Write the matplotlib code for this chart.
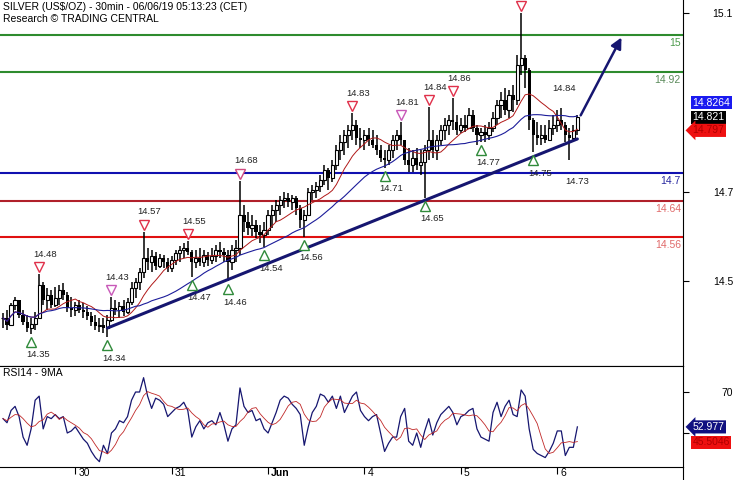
import numpy as np
import pandas as pd
import matplotlib
matplotlib.use('Agg')
import matplotlib.pyplot as plt
from matplotlib import transforms
from matplotlib.lines import Line2D

plt.rcParams['font.family'] = ['Liberation Sans', 'DejaVu Sans']

# hourly bars (trading time, weekend skipped)
times = pd.date_range('2019-05-29 06:00', '2019-05-31 23:00', freq='h').append(
	pd.date_range('2019-06-03 00:00', '2019-06-06 05:00', freq='h'))

highs = [14.396, 14.402, 14.417, 14.430, 14.424, 14.402, 14.391, 14.385, 14.398, 14.480,
	14.463, 14.450, 14.446, 14.452, 14.457, 14.461, 14.441, 14.430, 14.420, 14.424,
	14.417, 14.411, 14.398, 14.391, 14.385, 14.385, 14.391, 14.430, 14.424, 14.420,
	14.424, 14.428, 14.463, 14.472, 14.493, 14.572, 14.537, 14.532, 14.528, 14.524,
	14.522, 14.515, 14.519, 14.532, 14.541, 14.548, 14.552, 14.532, 14.532, 14.537,
	14.532, 14.528, 14.537, 14.543, 14.550, 14.537, 14.532, 14.543, 14.554, 14.683,
	14.630, 14.615, 14.609, 14.598, 14.587, 14.593, 14.620, 14.630, 14.641, 14.650,
	14.659, 14.656, 14.652, 14.650, 14.630, 14.620, 14.667, 14.674, 14.680, 14.696,
	14.717, 14.711, 14.728, 14.761, 14.783, 14.793, 14.804, 14.830, 14.815, 14.798,
	14.793, 14.798, 14.793, 14.783, 14.761, 14.750, 14.761, 14.783, 14.793, 14.810,
	14.772, 14.754, 14.750, 14.754, 14.750, 14.761, 14.843, 14.793, 14.783, 14.804,
	14.820, 14.826, 14.863, 14.826, 14.820, 14.826, 14.841, 14.837, 14.804, 14.798,
	14.804, 14.811, 14.833, 14.859, 14.876, 14.885, 14.880, 14.891, 14.957, 15.048,
	14.957, 14.928, 14.820, 14.811, 14.804, 14.804, 14.815, 14.826, 14.837, 14.841,
	14.811, 14.798, 14.804, 14.826]
lows = [14.363, 14.359, 14.376, 14.402, 14.385, 14.370, 14.354, 14.350, 14.359, 14.385,
	14.413, 14.402, 14.407, 14.409, 14.413, 14.424, 14.398, 14.387, 14.389, 14.396,
	14.385, 14.380, 14.367, 14.359, 14.354, 14.352, 14.343, 14.376, 14.391, 14.385,
	14.389, 14.393, 14.413, 14.428, 14.446, 14.472, 14.489, 14.485, 14.489, 14.493,
	14.493, 14.485, 14.485, 14.500, 14.507, 14.515, 14.522, 14.474, 14.493, 14.498,
	14.496, 14.498, 14.502, 14.507, 14.515, 14.507, 14.465, 14.489, 14.507, 14.522,
	14.572, 14.565, 14.563, 14.559, 14.548, 14.539, 14.565, 14.580, 14.593, 14.609,
	14.624, 14.626, 14.620, 14.609, 14.580, 14.561, 14.609, 14.641, 14.646, 14.659,
	14.674, 14.663, 14.680, 14.707, 14.728, 14.739, 14.754, 14.772, 14.761, 14.754,
	14.750, 14.759, 14.754, 14.739, 14.724, 14.711, 14.717, 14.733, 14.750, 14.761,
	14.717, 14.702, 14.702, 14.707, 14.696, 14.646, 14.728, 14.733, 14.728, 14.761,
	14.772, 14.783, 14.793, 14.783, 14.787, 14.789, 14.798, 14.789, 14.761, 14.768,
	14.767, 14.772, 14.789, 14.804, 14.820, 14.826, 14.820, 14.833, 14.848, 14.913,
	14.885, 14.793, 14.745, 14.761, 14.761, 14.765, 14.772, 14.783, 14.789, 14.793,
	14.767, 14.728, 14.767, 14.783]
closes = [14.385, 14.370, 14.413, 14.424, 14.391, 14.376, 14.363, 14.372, 14.385, 14.457,
	14.424, 14.435, 14.413, 14.428, 14.446, 14.435, 14.407, 14.402, 14.413, 14.402,
	14.398, 14.389, 14.376, 14.367, 14.370, 14.363, 14.380, 14.407, 14.402, 14.411,
	14.398, 14.420, 14.450, 14.463, 14.485, 14.515, 14.507, 14.519, 14.498, 14.515,
	14.507, 14.493, 14.511, 14.526, 14.532, 14.537, 14.528, 14.507, 14.515, 14.507,
	14.522, 14.511, 14.519, 14.532, 14.528, 14.522, 14.507, 14.532, 14.537, 14.609,
	14.593, 14.580, 14.587, 14.572, 14.565, 14.576, 14.609, 14.620, 14.630, 14.641,
	14.646, 14.637, 14.646, 14.624, 14.598, 14.609, 14.659, 14.663, 14.672, 14.685,
	14.707, 14.689, 14.717, 14.750, 14.767, 14.783, 14.793, 14.804, 14.776, 14.772,
	14.783, 14.772, 14.761, 14.750, 14.733, 14.728, 14.750, 14.772, 14.783, 14.772,
	14.728, 14.717, 14.733, 14.717, 14.724, 14.750, 14.772, 14.750, 14.772, 14.793,
	14.804, 14.815, 14.811, 14.793, 14.804, 14.798, 14.826, 14.798, 14.783, 14.789,
	14.783, 14.798, 14.820, 14.848, 14.859, 14.837, 14.870, 14.859, 14.935, 14.950,
	14.924, 14.815, 14.783, 14.776, 14.783, 14.772, 14.798, 14.804, 14.815, 14.804,
	14.783, 14.776, 14.793, 14.821]
rsi = [57, 55, 61, 63, 58, 48, 44, 52, 66, 68,
	52, 58, 57, 59, 57, 58, 50, 51, 53, 50,
	47, 45, 41, 38, 36, 44, 40, 50, 52, 56,
	55, 58, 66, 70, 70, 77, 68, 62, 67, 66,
	64, 58, 60, 62, 63, 65, 61, 48, 53, 56,
	52, 55, 56, 54, 60, 54, 46, 52, 54, 72,
	63, 60, 61, 56, 57, 52, 50, 55, 60, 66,
	68, 67, 64, 62, 59, 44, 53, 60, 63, 69,
	68, 65, 68, 62, 68, 60, 64, 68, 70, 61,
	58, 56, 58, 59, 50, 41, 45, 48, 48, 58,
	62, 46, 44, 50, 43, 51, 57, 49, 55, 59,
	61, 63, 60, 54, 58, 59, 61, 62, 52, 48,
	47, 46, 60, 65, 58, 63, 66, 59, 58, 71,
	68, 52, 42, 40, 39, 38, 41, 45, 51, 51,
	39, 43, 43, 52.977]

# support / resistance levels
levels = [15.0, 14.92, 14.7, 14.64, 14.56]
level_text = ['15', '14.92', '14.7', '14.64', '14.56']
level_colors = ['#2e8b2e', '#2e8b2e', '#1010b0', '#b0202a', '#e01010']
level_text_colors = ['#4c9a4c', '#5a8a5a', '#2828a0', '#e06a6a', '#e06a6a']

# swing highs / lows
peak_bars = [9, 27, 35, 46, 59, 87, 99, 106, 112, 129]
peak_text = ['14.48', '14.43', '14.57', '14.55', '14.68', '14.83', '14.81', '14.84', '14.86', '']
peak_colors = ['#e0304a', '#c858b8', '#e0304a', '#e0304a', '#d04a80', '#e0304a', '#c858b8', '#e0304a', '#e0304a', '#e0304a']
trough_bars = [7, 26, 47, 56, 65, 75, 95, 105, 119, 132]
trough_text = ['14.35', '14.34', '14.47', '14.46', '14.54', '14.56', '14.71', '14.65', '14.77', '14.75']

trend_bars = [26, 143]
trend_prices = [14.363, 14.774]
arrow_from = (143.5, 14.82)
arrow_to = (154.3, 15.0)

highs = np.array(highs); lows = np.array(lows); closes = np.array(closes)
x = np.arange(len(closes))
opens = np.r_[closes[0], closes[:-1]]
ma_fast = pd.Series(closes).rolling(10, min_periods=1).mean()
ma_slow = pd.Series(closes).rolling(25, min_periods=1).mean()
rsi_ma = pd.Series(rsi).rolling(5, min_periods=1).mean()  # 9 x 30min ~ 5 hourly bars

fig = plt.figure(figsize=(7.35, 4.8), dpi=100)
ax = fig.add_axes([0, 114/480, 683/735, 366/480])
ax2 = fig.add_axes([0, 13/480, 683/735, 101/480])
navy = '#161670'

# levels
for lv, t, c, tc in zip(levels, level_text, level_colors, level_text_colors):
	ax.axhline(lv, color=c, lw=1.5, zorder=1)
	ax.text(0.997, lv, t, transform=transforms.offset_copy(
		transforms.blended_transform_factory(ax.transAxes, ax.transData), fig, y=-3, units='dots'),
		ha='right', va='top', fontsize=7.5, color=tc)

# candles
up = closes >= opens
ax.vlines(x, lows, highs, color='black', lw=1.1, zorder=3)
ax.bar(x[up], (closes - opens)[up], bottom=opens[up], width=0.8, facecolor='white', edgecolor='black', lw=0.8, zorder=4)
ax.bar(x[~up], (closes - opens)[~up], bottom=opens[~up], width=0.8, color='black', zorder=4)

ax.plot(x, ma_fast, color='#b01818', lw=0.7, zorder=5)
ax.plot(x, ma_slow, color='#1c1c9a', lw=0.8, zorder=5)

ax.plot(trend_bars, trend_prices, color=navy, lw=2.2, zorder=6, solid_capstyle='round')
ax.annotate('', xy=arrow_to, xytext=arrow_from,
	arrowprops=dict(arrowstyle='-|>', color=navy, lw=1.8, mutation_scale=16), zorder=6)

# swing markers
above = lambda dy, dx=0: transforms.offset_copy(ax.transData, fig, x=dx, y=dy, units='dots')
for b, t, c in zip(peak_bars, peak_text, peak_colors):
	ax.plot(b, highs[b], marker='v', ms=7, mfc='white', mec=c, mew=1, transform=above(7), zorder=7)
	ax.text(b, highs[b], t, transform=above(20, 6), ha='center', va='center', fontsize=6.8, color='#222222')
for b, t in zip(trough_bars, trough_text):
	ax.plot(b, lows[b], marker='^', ms=7, mfc='white', mec='#2f8a3a', mew=1, transform=above(-8), zorder=7)
	ax.text(b, lows[b], t, transform=above(-21, 7), ha='center', va='center', fontsize=6.8, color='#222222')
ax.text(139, highs[139], '14.84', transform=above(20, 3), ha='center', va='center', fontsize=6.8, color='#222222')
ax.text(141, lows[141], '14.73', transform=above(-21, 8), ha='center', va='center', fontsize=6.8, color='#222222')

ax.set_xlim(-0.75, 169.3)
ax.set_ylim(14.2804, 15.0761)
ax.set_xticks([])
for s in ['left', 'top']:
	ax.spines[s].set_visible(False)
ax.yaxis.tick_right()
ax.set_yticks([15.048, 14.659, 14.465], ['15.1', '14.7', '14.5'])
ax.tick_params(axis='y', direction='out', length=4, labelsize=7.5, pad=32)
for lbl in ax.get_yticklabels():
	lbl.set_ha('right')

# price boxes on the right
yblend = transforms.blended_transform_factory(ax.transAxes, ax.transData)
ax.text(1.014, 14.8264, '14.8264', transform=transforms.offset_copy(yblend, fig, y=12, units='dots'),
	ha='left', va='center', fontsize=7.5, color='white', clip_on=False,
	bbox=dict(boxstyle='square,pad=0.15', fc='#1a1af0', ec='none'))
ax.text(1.014, 14.821, '14.821', transform=yblend, ha='left', va='center', fontsize=7.5, color='white', clip_on=False,
	bbox=dict(boxstyle='square,pad=0.15', fc='black', ec='none'))
ax.text(1.014, 14.797, '14.797', transform=transforms.offset_copy(yblend, fig, y=-2, units='dots'),
	ha='left', va='center', fontsize=7.5, color='#b00000', clip_on=False,
	bbox=dict(boxstyle='larrow,pad=0.15', fc='#ee1010', ec='none'))

fig.text(3/735, 1 - 7/480, r'SILVER (US\$/OZ) - 30min - 06/06/19 05:13:23 (CET)', va='center', fontsize=7.5)
fig.text(3/735, 1 - 19/480, 'Research © TRADING CENTRAL', va='center', fontsize=7.5)

# RSI panel
ax2.plot(x, rsi, color=navy, lw=0.9)
ax2.plot(x, rsi_ma, color='#c02828', lw=0.6)
ax2.set_xlim(-0.75, 169.3)
ax2.set_ylim(33.4, 82.7)
ax2.spines['left'].set_visible(False)
ax2.yaxis.tick_right()
ax2.set_yticks([70, 50], ['70', ''])
ax2.tick_params(axis='y', direction='out', length=4, labelsize=7.5, pad=32)
for lbl in ax2.get_yticklabels():
	lbl.set_ha('right')
ax2.text(3/683, 0.93, 'RSI14 - 9MA', transform=ax2.transAxes, fontsize=7.5, va='center')

day_idx = [i for i in range(len(times)) if times[i].hour == 0]
day_lab = []
for i in day_idx:
	first = times[i].month != times[day_idx[0]].month and all(times[j].month != times[i].month for j in day_idx if j < i)
	day_lab.append(times[i].strftime('%b') if first else str(times[i].day))
ax2.set_xticks(day_idx, day_lab)
ax2.tick_params(axis='x', direction='out', length=5, labelsize=7.5, pad=-4)
shift = transforms.ScaledTranslation(3/100, 0, fig.dpi_scale_trans)
for lbl in ax2.get_xticklabels():
	lbl.set_ha('left')
	lbl.set_transform(lbl.get_transform() + shift)
	if lbl.get_text() == 'Jun':
		lbl.set_fontweight('bold')

ybl2 = transforms.blended_transform_factory(ax2.transAxes, ax2.transData)
ax2.text(1.014, 52.977, '52.977', transform=ybl2, ha='left', va='center', fontsize=7.5, color='white', clip_on=False,
	bbox=dict(boxstyle='larrow,pad=0.15', fc='#101080', ec='none'))
ax2.text(1.014, 45.5, '45.5046', transform=ybl2, ha='left', va='center', fontsize=7.5, color='#b00000', clip_on=False,
	bbox=dict(boxstyle='square,pad=0.15', fc='#ee1010', ec='none'))

fig.add_artist(Line2D([683/735, 683/735], [0, 13/480], color='black', lw=0.8))

fig.savefig('out.png', dpi=100)
